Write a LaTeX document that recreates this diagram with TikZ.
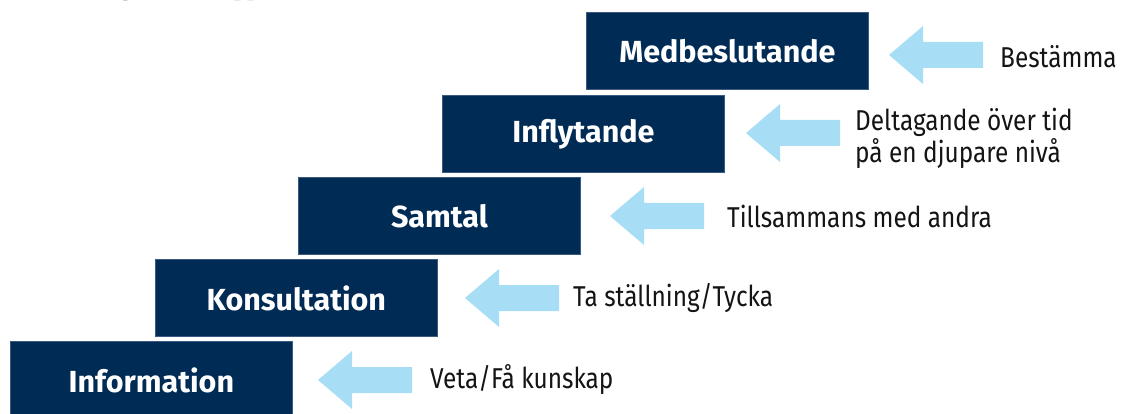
\documentclass[tikz,border=0pt]{standalone}
\usepackage{fontspec}
\setmainfont{Fira Sans}
\newfontfamily\lblfont[FakeStretch=0.85]{Fira Sans}
\newfontfamily\titlefont{Liberation Serif}
\definecolor{navy}{HTML}{002B55}
\definecolor{navyedge}{HTML}{3A5A80}
\definecolor{sky}{HTML}{A8DDF6}
\tikzset{
  stepbox/.style={rectangle, anchor=north west, fill=navy, draw=navyedge, line width=0.8pt,
    minimum width=282pt, minimum height=77pt, inner sep=0pt, text=white,
    font=\bfseries\fontsize{30.5}{33}\selectfont},
  lbl/.style={anchor=west, inner sep=0pt, align=left, text=black!92,
    font=\lblfont\fontsize{28.7}{32}\selectfont},
  blockarrow/.style={fill=sky, draw=none}
}
\newcommand{\skyarrow}[2]{%
  \fill[blockarrow] (#1,#2) -- ++(34,-29) -- ++(0,16) -- ++(60,0) -- ++(0,26) -- ++(-60,0) -- ++(0,16) -- cycle;}
\begin{document}
\begin{tikzpicture}[x=1pt,y=-1pt]
\useasboundingbox (0,0) rectangle (1121,414);
\begin{scope}
\clip (0,0) rectangle (1121,414);
\node[anchor=base west, inner sep=0pt, font=\titlefont\bfseries\fontsize{24}{28}\selectfont, text=black!75] (title) at (45,-4) {Delaktighetens trappa};
\node[stepbox] (info) at (10,341) {Information};
\end{scope}
\node[stepbox] (med) at (586,12) {Medbeslutande};
\node[stepbox] (infl) at (442,95) {Inflytande};
\node[stepbox] (sam) at (298,177) {Samtal};
\node[stepbox] (kon) at (155,259) {Konsultation};

\skyarrow{889}{55}
\skyarrow{746}{133}
\skyarrow{610}{216}
\skyarrow{465}{298}
\skyarrow{318}{380}

\node[lbl] (l1) at (1000,57) {Bestämma};
\node[lbl] (l2) at (855,138) {Deltagande över tid\\på en djupare nivå};
\node[lbl] (l3) at (727,216) {Tillsammans med andra};
\node[lbl] (l4) at (573,298) {Ta ställning/Tycka};
\node[lbl] (l5) at (430,380) {Veta/Få kunskap};
\end{tikzpicture}
\end{document}
